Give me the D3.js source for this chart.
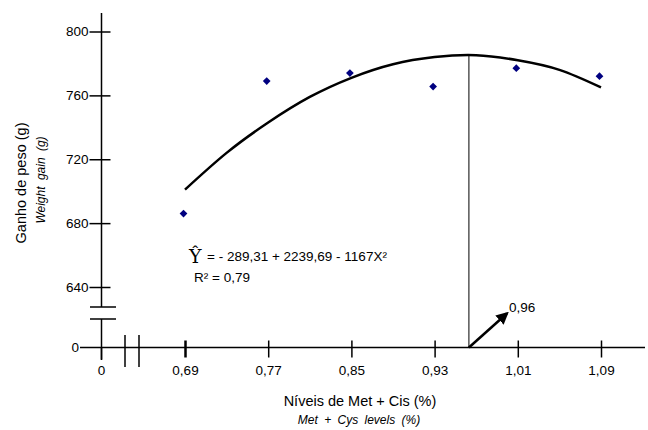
<!DOCTYPE html>
<html>
<head>
<meta charset="utf-8">
<script src="https://cdn.jsdelivr.net/npm/d3@7"></script>
<style>
  body { margin: 0; background: #fff; }
  text { font-family: "Liberation Sans", Arial, sans-serif; fill: #000; }
</style>
</head>
<body>
<div id="chart"></div>
<script>
// Observed points (Met + Cys level, weight gain)
const levels = [0.69, 0.77, 0.85, 0.93, 1.01, 1.09];
const gains = [686, 769, 774, 765.5, 777, 772];

// Fitted quadratic curve
const curveLevels = [0.69, 0.73, 0.77, 0.81, 0.85, 0.89, 0.93, 0.97, 1.01, 1.05, 1.09];
const curveGains = [701, 724, 743, 759, 771, 779.5, 784, 785.2, 782, 776, 765];

// Optimum level and its gain
const optLevel = 0.963;
const optGain = 785.2;

// Tick labels
const xTicks = [0.69, 0.77, 0.85, 0.93, 1.01, 1.09];
const yTicks = [640, 680, 720, 760, 800];

const width = 648, height = 430;

const svg = d3.select("#chart").append("svg")
  .attr("width", width)
  .attr("height", height);

const x = d3.scaleLinear().domain([0.69, 1.09]).range([185, 601]);
const y = d3.scaleLinear().domain([640, 800]).range([287, 31.5]);

// positions of the broken part of the axes (the zero)
const x0 = 101.5, y0 = 347.5;

// Y axis line with a break between 640 and 0
svg.append("line").attr("x1", x0).attr("x2", x0).attr("y1", 13).attr("y2", 307)
  .attr("stroke", "#000").attr("stroke-width", 1.5);
svg.append("line").attr("x1", x0).attr("x2", x0).attr("y1", 319).attr("y2", 360)
  .attr("stroke", "#000").attr("stroke-width", 1.5);
[307, 319].forEach(v => {
  svg.append("line").attr("x1", 90).attr("x2", 116).attr("y1", v).attr("y2", v)
    .attr("stroke", "#000").attr("stroke-width", 1.5);
});

// X axis line with a break between 0 and 0.69
svg.append("line").attr("x1", 80).attr("x2", 645).attr("y1", y0).attr("y2", y0)
  .attr("stroke", "#000").attr("stroke-width", 1.5);
[125, 139].forEach(v => {
  svg.append("line").attr("x1", v).attr("x2", v).attr("y1", 335).attr("y2", 367)
    .attr("stroke", "#000").attr("stroke-width", 1.5);
});

// Y axis
const yAxis = svg.append("g")
  .attr("transform", `translate(${x0},0)`)
  .call(d3.axisLeft(y).tickValues(yTicks).tickSize(12).tickPadding(1).tickFormat(d3.format("d")));
yAxis.select(".domain").remove();
yAxis.selectAll(".tick line").attr("stroke-width", 1.5);
yAxis.selectAll(".tick").append("line").attr("x2", 9).attr("stroke", "#000").attr("stroke-width", 1.5);
yAxis.selectAll(".tick text").style("font-size", "13.5px").attr("fill", "#000");

// zero on the y axis
svg.append("text").attr("x", 79).attr("y", y0).attr("dy", "0.32em")
  .attr("text-anchor", "end").style("font-size", "13.5px").text("0");

// X axis
const xAxis = svg.append("g")
  .attr("transform", `translate(0,${y0})`)
  .call(d3.axisBottom(x).tickValues(xTicks).tickSize(10).tickPadding(8)
    .tickFormat(d => d.toFixed(2).replace(".", ",")));
xAxis.select(".domain").remove();
xAxis.selectAll(".tick line").attr("stroke-width", (d, i) => i === 0 ? 2.5 : 1.5);
xAxis.selectAll(".tick").append("line").attr("y2", -7).attr("stroke", "#000")
  .attr("stroke-width", (d, i) => i === 0 ? 2.5 : 1.5);
xAxis.selectAll(".tick text").style("font-size", "13.5px").attr("fill", "#000");

// zero on the x axis
svg.append("line").attr("x1", x0).attr("x2", x0).attr("y1", y0).attr("y2", y0 + 12)
  .attr("stroke", "#000").attr("stroke-width", 1.5);
svg.append("text").attr("x", x0).attr("y", 375).attr("text-anchor", "middle")
  .style("font-size", "13.5px").text("0");

// Fitted curve
const line = d3.line()
  .x((d, i) => x(curveLevels[i]))
  .y(d => y(d))
  .curve(d3.curveNatural);
svg.append("path")
  .datum(curveGains)
  .attr("d", line)
  .attr("fill", "none")
  .attr("stroke", "#000")
  .attr("stroke-width", 2.5);

// Points
svg.selectAll(".pt")
  .data(gains)
  .enter().append("path")
  .attr("class", "pt")
  .attr("d", d3.symbol().type(d3.symbolSquare).size(30))
  .attr("transform", (d, i) => `translate(${x(levels[i]) - 1.5},${y(d)}) rotate(45)`)
  .attr("fill", "#000080");

// Vertical line at the optimum
svg.append("line")
  .attr("x1", x(optLevel)).attr("x2", x(optLevel))
  .attr("y1", y0).attr("y2", y(optGain))
  .attr("stroke", "#000").attr("stroke-width", 1);

// Arrow pointing to the optimum label
svg.append("defs").append("marker")
  .attr("id", "arrow")
  .attr("viewBox", "0 0 10 10")
  .attr("refX", 8).attr("refY", 5)
  .attr("markerWidth", 5).attr("markerHeight", 5)
  .attr("orient", "auto")
  .append("path").attr("d", "M0,0 L10,5 L0,10 Z").attr("fill", "#000");
svg.append("line")
  .attr("x1", x(optLevel)).attr("y1", y0)
  .attr("x2", x(optLevel) + 38).attr("y2", y0 - 34)
  .attr("stroke", "#000").attr("stroke-width", 2.5)
  .attr("marker-end", "url(#arrow)");
svg.append("text").attr("x", x(optLevel) + 40).attr("y", 312)
  .style("font-size", "13.5px").text(optLevel.toFixed(2).replace(".", ","));

// Equation
svg.append("text").attr("x", 189).attr("y", 263)
  .style("font-size", "19px").style("font-family", "DejaVu Serif")
  .attr("fill", "#777").text("Ŷ");
svg.append("text").attr("x", 207).attr("y", 261)
  .style("font-size", "13.5px").text("= - 289,31 + 2239,69 - 1167X²");
svg.append("text").attr("x", 194).attr("y", 282)
  .style("font-size", "13.5px").text("R² = 0,79");

// Axis titles
svg.append("text")
  .attr("transform", "translate(26,183) rotate(-90)")
  .attr("text-anchor", "middle")
  .style("font-size", "14.5px")
  .text("Ganho de peso (g)");
svg.append("text")
  .attr("transform", "translate(45,180) rotate(-90)")
  .attr("text-anchor", "middle")
  .style("font-size", "12px").style("font-style", "italic").style("word-spacing", "3px")
  .text("Weight gain (g)");
svg.append("text")
  .attr("x", 360).attr("y", 406)
  .attr("text-anchor", "middle")
  .style("font-size", "14.5px")
  .text("Níveis de Met + Cis (%)");
svg.append("text")
  .attr("x", 359).attr("y", 424)
  .attr("text-anchor", "middle")
  .style("font-size", "12px").style("font-style", "italic").style("word-spacing", "3px")
  .text("Met + Cys levels (%)");
</script>
</body>
</html>
